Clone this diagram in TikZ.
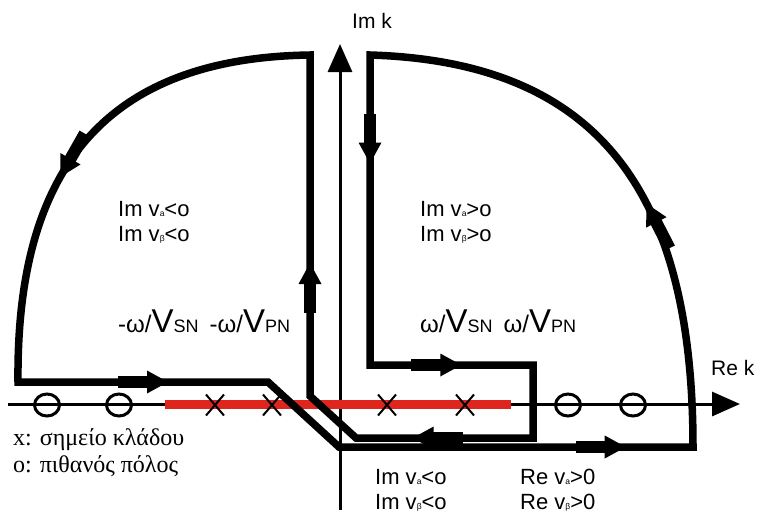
\documentclass[tikz,border=0pt]{standalone}
\usepackage{fontspec}
\setmainfont{Liberation Sans}
\newfontfamily\legendfont{Liberation Serif}
\usepackage{tikz}
\usetikzlibrary{arrows.meta, shapes.geometric, shapes.misc, decorations.markings}
\definecolor{cutred}{RGB}{222,38,30}
\newcommand{\idx}[1]{{\fontsize{8.5}{8.5}\selectfont #1}}
\newcommand{\fsz}[2]{{\fontsize{#1}{#1}\selectfont #2}}
\tikzset{flowmark/.style={postaction={decorate, decoration={markings, mark=at position #1 with {\fill (-50pt,-6pt) rectangle (-18pt,6pt); \fill (-21pt,-11.5pt) -- (0pt,0pt) -- (-21pt,11.5pt) -- cycle;}}}}}

\begin{document}
\begin{tikzpicture}[x=1pt, y=-1pt, >=Latex]
    \tikzstyle{contour}=[line width=7.5pt, line join=miter]
    \tikzstyle{axis}=[line width=3pt, -{Triangle[length=28pt, width=24pt]}]
    \tikzstyle{cut}=[line width=9pt, draw=cutred]
    \tikzstyle{pole}=[ellipse, draw, line width=3pt, minimum width=25pt, minimum height=22pt, inner sep=0pt]
    \tikzstyle{branch}=[cross out, draw, line width=2pt, minimum width=16pt, minimum height=19pt, inner sep=0pt]
    \tikzstyle{lbl}=[font=\fontsize{22}{25}\selectfont, align=left, anchor=west, inner sep=0pt]

    \useasboundingbox (0,0) rectangle (760,515);

    \coordinate (xs) at (8,404);
    \coordinate (xe) at (740,404);
    \coordinate (ys) at (340,510);
    \coordinate (ye) at (340,44);
    \coordinate (cuts) at (165,404);
    \coordinate (cute) at (511,404);

    \coordinate (lt) at (310,55);
    \coordinate (lb) at (310,396);
    \coordinate (wl) at (18,382);
    \coordinate (wr) at (268,382);
    \coordinate (sl) at (339,447);
    \coordinate (sr) at (693,447);
    \coordinate (rt) at (370,55);
    \coordinate (rb) at (370,365);
    \coordinate (nr) at (533,365);
    \coordinate (nb) at (533,438);
    \coordinate (ns) at (356,438);

    \draw[axis] (xs) -- (xe);
    \draw[axis] (ys) -- (ye);
    \draw[cut] (cuts) -- (cute);

    \node[branch] (b1) at (215,405) {};
    \node[branch] (b2) at (272,405) {};
    \node[branch] (b3) at (387,405) {};
    \node[branch] (b4) at (465,405) {};

    \draw[contour] (lt) .. controls (100,58) and (16,175) .. (wl) -- (wr) -- (sl) -- (sr)
        .. controls (693,200) and (605,62) .. (rt) -- (rb) -- (nr) -- (nb) -- (ns) -- (lb) -- cycle;

    \path[flowmark=0.39] (lb) -- (lt);
    \path[flowmark=0.58] (lt) .. controls (100,58) and (16,175) .. (wl);
    \path[flowmark=0.6] (wl) -- (wr);
    \path[flowmark=0.81] (sl) -- (sr);
    \path[flowmark=0.43] (sr) .. controls (693,200) and (605,62) .. (rt);
    \path[flowmark=0.35] (rt) -- (rb);
    \path[flowmark=0.56] (rb) -- (nr);
    \path[flowmark=0.68] (nb) -- (ns);

    \node[pole] (p1) at (47,405) {};
    \node[pole] (p2) at (119,405) {};
    \node[pole] (p3) at (568,405) {};
    \node[pole] (p4) at (633,405) {};

    \node[lbl] (imneg) at (118,222) {Im v\idx{a}<o\\Im v\idx{β}<o};
    \node[lbl] (impos) at (420,222) {Im v\idx{a}>o\\Im v\idx{β}>o};
    \node[lbl] (imlow) at (375,490) {Im v\idx{a}<o\\Im v\idx{β}<o};
    \node[lbl] (relow) at (520,490) {Re v\idx{a}>0\\Re v\idx{β}>0};
    \node[anchor=base west, inner sep=0pt] (wneg) at (118,332) {\fsz{24}{-ω/}\fsz{33}{V}\fsz{18}{SN}\hspace{11pt}\fsz{24}{-ω/}\fsz{33}{V}\fsz{18}{PN}};
    \node[anchor=base west, inner sep=0pt] (wpos) at (420,332) {\fsz{24}{ω/}\fsz{33}{V}\fsz{18}{SN}\hspace{11pt}\fsz{24}{ω/}\fsz{33}{V}\fsz{18}{PN}};
    \node[anchor=west, inner sep=0pt, font=\fontsize{21}{21}\selectfont] (rek) at (711,368) {Re k};
    \node[inner sep=0pt, font=\fontsize{21}{21}\selectfont] (imk) at (372,21) {Im k};
    \node[lbl, font=\legendfont\fontsize{24}{27}\selectfont] (legend) at (13,453) {x: σημείο κλάδου\\o: πιθανός πόλος};
\end{tikzpicture}
\end{document}
